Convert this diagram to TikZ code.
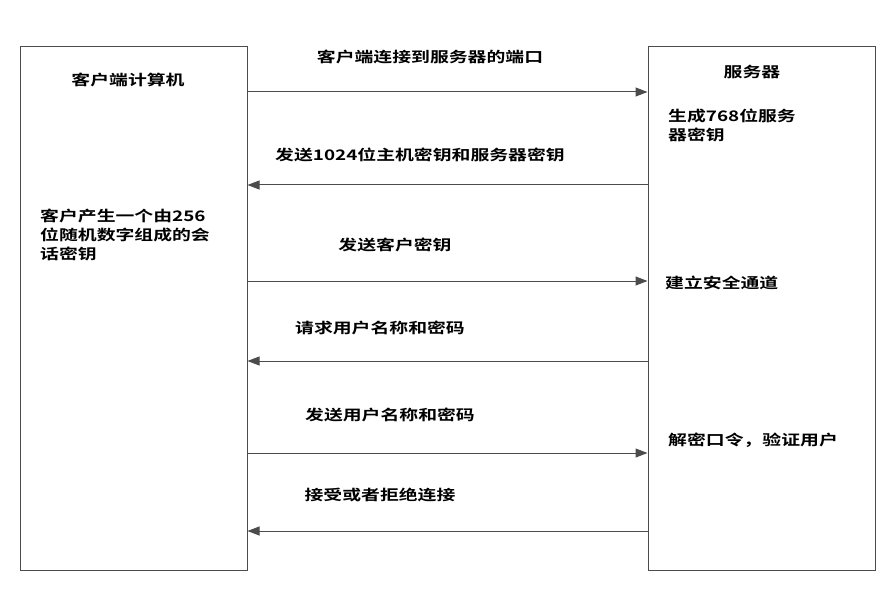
\documentclass[tikz,border=0pt]{standalone}
\usepackage{fontspec}
\newfontfamily\cjk[FakeStretch=1.3]{Noto Sans CJK SC Bold}
\usetikzlibrary{arrows.meta,positioning}

\begin{document}
\begin{tikzpicture}[
	x=1pt,y=-1pt,
	party/.style={
		draw=black!70,
		line width=1pt,
		minimum width=227pt,
		minimum height=523pt,
		inner sep=0pt
	},
	msg/.style={
		draw=black!70,
		line width=1pt,
		-{Triangle[length=12pt,width=9pt]}
	},
	txt/.style={
		font=\cjk\fontsize{14.5}{19}\selectfont,
		inner sep=0pt,
		align=left
	}
	]
	\useasboundingbox (0,0) rectangle (886,596);
	\node[party] (client) at (133.5,308.5) {};
	\node[party] (server) at (761.5,308.5) {};
	% titles and notes
	\node[txt] (ctitle) at (128,80) {客户端计算机};
	\node[txt,anchor=north west] (cnote) at (40,209) {客户产生一个由256\\位随机数字组成的会\\话密钥};
	\node[txt] (stitle) at (752,72) {服务器};
	\node[txt,anchor=north west] (snote1) at (668,109) {生成768位服务\\器密钥};
	\node[txt,anchor=west] (snote2) at (665,283) {建立安全通道};
	\node[txt,anchor=west] (snote3) at (668,440) {解密口令，验证用户};
	% messages
	\foreach \y/\dir/\lx/\ly/\lab in {
		92/r/430/57/客户端连接到服务器的端口,
		185/l/420/155/发送1024位主机密钥和服务器密钥,
		281/r/395/245/发送客户密钥,
		361/l/380/328/请求用户名称和密码,
		453/r/390/415/发送用户名称和密码,
		531/l/380/495/接受或者拒绝连接}
	{
		\coordinate (row) at (0,\y);
		\node[txt] (lab\y) at (\lx,\ly) {\lab};
		\if r\dir
			\draw[msg] (client.east |- row) -- (server.west |- row);
		\else
			\draw[msg] (server.west |- row) -- (client.east |- row);
		\fi
	}
\end{tikzpicture}
\end{document}
